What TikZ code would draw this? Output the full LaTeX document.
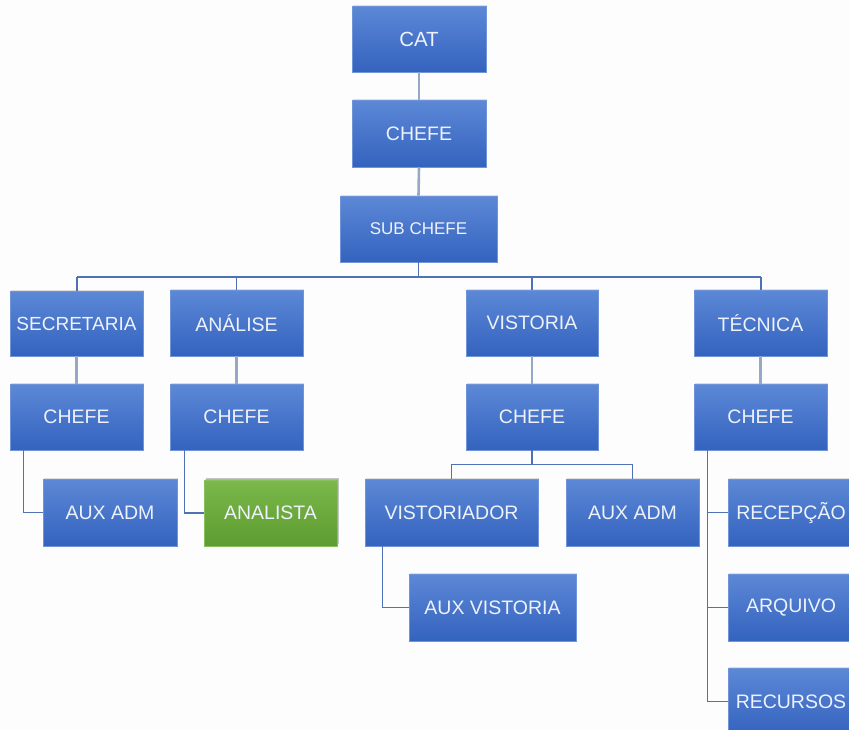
\documentclass[tikz,border=0pt]{standalone}
\usepackage{fontspec}
\setmainfont{Liberation Sans}
\usetikzlibrary{shadows}
\definecolor{btop}{HTML}{5C88D6}
\definecolor{bbot}{HTML}{3463BF}
\definecolor{bedge}{HTML}{6F94D8}
\definecolor{gtop}{HTML}{7CB84C}
\definecolor{gbot}{HTML}{5C9C30}
\definecolor{gedge}{HTML}{88C060}
\definecolor{txt}{HTML}{EEF2FA}
\definecolor{thick}{HTML}{94A8C8}
\definecolor{thin}{HTML}{4F72B4}
\definecolor{bg}{HTML}{FDFDFD}
\tikzset{
  box/.style={rectangle, inner sep=0pt, minimum width=134pt, minimum height=66pt,
    top color=btop, bottom color=bbot, draw=bedge, line width=0.6pt,
    text=txt, font=\fontsize{19.5}{21}\selectfont,
    drop shadow={opacity=0.25, shadow xshift=1pt, shadow yshift=1.5pt}},
  gbox/.style={box, top color=gtop, bottom color=gbot, draw=gedge,
    drop shadow={opacity=0.45, shadow xshift=1.5pt, shadow yshift=2.5pt}},
  thickline/.style={draw=thick, line width=2.6pt},
  thinline/.style={draw=thin, line width=1.3pt},
}
\begin{document}
\begin{tikzpicture}[x=1pt, y=-1pt]
\useasboundingbox (0,0) rectangle (849,729);
\clip (0,0) rectangle (849,729);
\fill[bg] (0,0) rectangle (849,729);

\coordinate (hl) at (77,277);
\coordinate (hr) at (761,277);

\node[box, font=\fontsize{20.5}{22}\selectfont] (cat) at (419,39) {CAT};
\node[box, minimum height=67pt] (chefe) at (419,133.5) {CHEFE};
\node[box, minimum width=157pt, font=\fontsize{17}{19}\selectfont] (sub) at (418.5,229) {SUB CHEFE};

\node[box, minimum width=133pt, minimum height=65pt, font=\fontsize{19}{21}\selectfont] (sec) at (76.5,323.5) {SECRETARIA};
\node[box, minimum width=133pt] (ana) at (236.5,323) {ANÁLISE};
\node[box, minimum width=132pt] (vis) at (532,323) {VISTORIA};
\node[box, minimum width=133pt] (tec) at (760.5,323) {TÉCNICA};

\node[box, minimum width=133pt] (c1) at (76.5,417) {CHEFE};
\node[box, minimum width=133pt] (c2) at (236.5,417) {CHEFE};
\node[box, minimum width=132pt] (c3) at (532,417) {CHEFE};
\node[box, minimum width=133pt] (c4) at (760.5,417) {CHEFE};

\node[box, minimum height=67pt] (aux1) at (110,512.5) {AUX ADM};
\node[gbox, minimum width=133pt] (anl) at (270.5,513) {ANALISTA};
\node[box, minimum width=173pt, minimum height=67pt] (vtd) at (451.5,512.5) {VISTORIADOR};
\node[box, minimum width=133pt, minimum height=67pt] (aux2) at (632.5,512.5) {AUX ADM};
\node[box, minimum width=167pt, minimum height=67pt] (auxv) at (492.5,607.5) {AUX VISTORIA};
\node[box, minimum width=126pt, minimum height=67pt] (rec) at (791,512.5) {RECEPÇÃO};
\node[box, minimum width=126pt, minimum height=67pt] (arq) at (791,607.5) {ARQUIVO};
\node[box, minimum width=126pt, minimum height=67pt] (rcs) at (791,701.5) {RECURSOS};

\draw[thickline] (cat.south) -- (chefe.north);
\draw[thickline] (chefe.south) -- (sub.north);
\draw[thinline] (sub.south) -- (sub.south |- hl);
\draw[thinline] (hl) -- (hr);
\draw[thinline] (hl) -- (sec.north -| hl);
\draw[thinline] (ana.north |- hl) -- (ana.north);
\draw[thinline] (vis.north |- hl) -- (vis.north);
\draw[thinline] (hr) -- (tec.north -| hr);

\draw[thickline] (sec.south) -- (c1.north);
\draw[thickline] (ana.south) -- (c2.north);
\draw[thickline] (vis.south) -- (c3.north);
\draw[thickline] (tec.south) -- (c4.north);

\draw[thinline] ([xshift=14pt]c1.south west) |- (aux1.west);
\draw[thinline] ([xshift=15pt]c2.south west) |- (anl.west);
\draw[thinline] (c3.south) -- ++(0,14) coordinate (vm);
\draw[thinline] (vtd.north) |- (vm) -| (aux2.north);
\draw[thinline] ([xshift=18pt]vtd.south west) |- (auxv.west);
\draw[thinline] ([xshift=14pt]c4.south west) |- (rcs.west);
\draw[thinline] ([xshift=14pt]c4.south west |- rec.west) -- (rec.west);
\draw[thinline] ([xshift=14pt]c4.south west |- arq.west) -- (arq.west);
\end{tikzpicture}
\end{document}
